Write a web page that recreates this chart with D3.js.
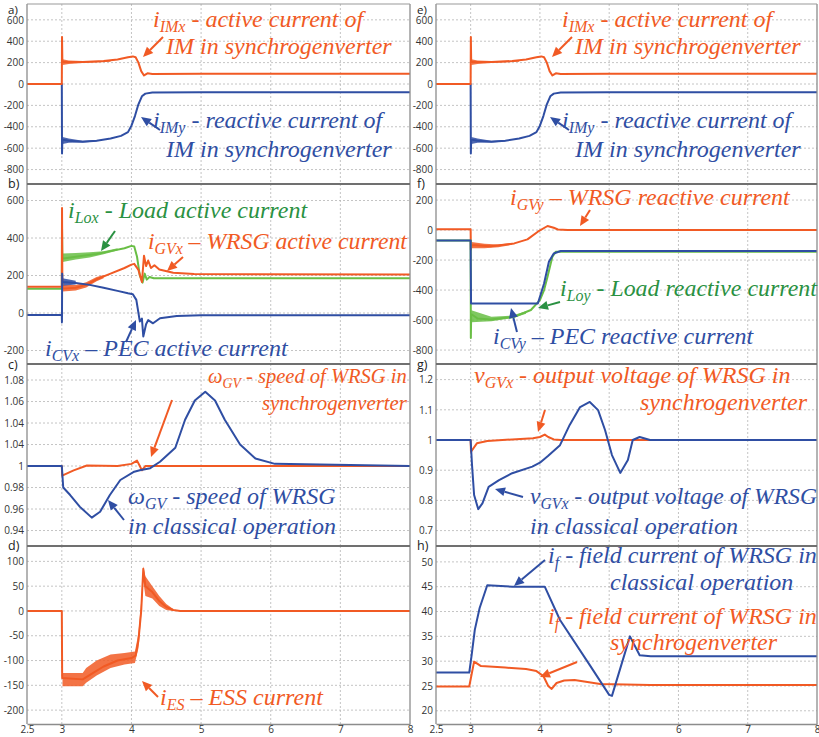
<!DOCTYPE html>
<html>
<head>
<meta charset="utf-8">
<script src="https://cdn.jsdelivr.net/npm/d3@7"></script>
<style>
  body { margin: 0; background: #fff; }
  svg { display: block; }
  .tick text, .plabel { font-family: "Open Sans", sans-serif; }
</style>
</head>
<body>
<svg width="819" height="737"></svg>
<script>
// colours
const ORANGE = "#f15a24";
const BLUE = "#2f4ea3";
const GREEN = "#69be45";
const GREEN_TXT = "#2a9142";

// x ticks (time, s)
const xTicks = [2.5, 3, 4, 5, 6, 7, 8];

// ---- panel a / e : IM currents ----
const imxLine = [[2.5,0],[3.0,0],[3.003,440],[3.008,205],[3.1,205],[3.3,205],[3.6,215],[3.8,230],[3.95,250],[4.02,258],[4.06,250],[4.1,200],[4.14,120],[4.18,80],[4.23,100],[4.3,93],[5,95],[8,95]];
const imxBand = [[3.01,178,232],[3.1,188,220],[3.3,196,214],[3.5,201,212],[3.7,209,217]];
const imyLine = [[2.5,0],[3.0,0],[3.003,-650],[3.008,-520],[3.1,-530],[3.3,-540],[3.5,-530],[3.7,-510],[3.85,-485],[3.95,-450],[4.0,-390],[4.05,-300],[4.1,-190],[4.15,-115],[4.2,-90],[4.3,-80],[5,-78],[8,-78]];
const imyBand = [[3.01,-560,-495],[3.1,-550,-510],[3.3,-548,-530],[3.5,-538,-523]];

// ---- panel b : active currents ----
const loxLine = [[2.5,130],[3.0,130],[3.003,450],[3.008,290],[3.1,295],[3.3,305],[3.5,315],[3.7,330],[3.9,345],[4.0,358],[4.04,355],[4.08,300],[4.12,200],[4.16,162],[4.19,210],[4.22,178],[4.26,192],[4.32,185],[8,185]];
const loxBand = [[3.01,272,318],[3.2,285,320],[3.4,296,324],[3.6,313,330],[3.8,333,345]];
const gvxLine = [[2.5,140],[3.0,140],[3.003,560],[3.008,130],[3.2,135],[3.35,150],[3.5,180],[3.7,210],[3.9,240],[4.0,258],[4.04,262],[4.1,230],[4.15,165],[4.18,305],[4.21,250],[4.24,280],[4.28,240],[4.33,255],[4.4,232],[4.6,215],[4.9,208],[8,205]];
const gvxBand = [[3.01,115,150],[3.2,120,150],[3.35,136,164],[3.5,170,192],[3.6,185,203]];
const cvxLine = [[2.5,-10],[3.0,-10],[3.002,-50],[3.005,210],[3.01,165],[3.2,160],[3.4,150],[3.6,135],[3.8,118],[3.95,105],[4.02,100],[4.07,70],[4.12,-45],[4.15,-30],[4.17,-125],[4.21,-60],[4.24,-38],[4.31,-55],[4.41,-28],[4.65,-16],[5,-12],[8,-12]];
const cvxBand = [[3.01,145,185],[3.2,152,172]];

// ---- panel c : speed ----
const wClassical = [[2.5,1],[3.0,1],[3.02,0.98],[3.12,0.973],[3.26,0.962],[3.43,0.952],[3.55,0.9575],[3.69,0.973],[3.84,0.987],[4.04,0.9947],[4.12,0.996],[4.27,0.998],[4.41,1.004],[4.63,1.017],[4.77,1.043],[4.91,1.061],[5.06,1.069],[5.2,1.061],[5.34,1.043],[5.56,1.02],[5.78,1.007],[6.06,1.002],[8,1]];
const wSynchro = [[2.5,1],[3.0,1],[3.005,0.991],[3.17,0.996],[3.36,1.0005],[3.8,1.0],[4.0,1.002],[4.08,1.005],[4.12,1.0],[4.15,0.996],[4.2,1.0],[8,1]];
const cTickVals = [1.08, 1.06, 1.04, 1.02, 1, 0.98, 0.96, 0.94];
const cTickLabels = ["1.08", "1.06", "1.04", "1.04", "1", "0.98", "0.96", "0.94"];

// ---- panel d : ESS current ----
const esLine = [[2.5,0],[3.0,0],[3.005,-135],[3.3,-138],[3.45,-125],[3.6,-112],[3.8,-100],[4.0,-95],[4.06,-90],[4.1,-60],[4.14,0],[4.17,85],[4.2,50],[4.3,38],[4.4,20],[4.5,8],[4.6,2],[4.7,0],[8,0]];
const esBand = [[3.01,-152,-125],[3.3,-152,-125],[3.35,-145,-115],[3.5,-130,-100],[3.7,-115,-88],[3.9,-108,-85],[4.05,-105,-82],[4.1,-75,-45],[4.14,-10,20],[4.17,60,90],[4.2,30,70],[4.3,25,50],[4.4,10,30],[4.5,2,14],[4.6,0,4]];

// ---- panel f : reactive currents ----
const gvyLine = [[2.5,5],[3.0,5],[3.003,-130],[3.01,-100],[3.29,-108],[3.63,-89],[3.82,-62],[3.97,-11],[4.11,27],[4.2,15],[4.26,4],[4.4,0],[8,0]];
const gvyBand = [[3.01,-122,-80],[3.2,-122,-92],[3.4,-114,-96],[3.6,-98,-86]];
const loyLine = [[2.5,-70],[3.0,-70],[3.003,-720],[3.008,-560],[3.1,-590],[3.29,-596],[3.63,-578],[3.87,-533],[4.0,-467],[4.06,-400],[4.11,-311],[4.18,-178],[4.23,-144],[8,-145]];
const loyBand = [[3.01,-615,-535],[3.3,-608,-578],[3.6,-588,-570],[3.8,-558,-542]];
const cvyLine = [[2.5,-70],[3.0,-70],[3.002,-250],[3.006,-490],[3.97,-490],[4.06,-356],[4.13,-211],[4.2,-156],[4.3,-140],[8,-140]];

// ---- panel g : output voltage ----
const vSynchro = [[2.5,1],[3.0,1],[3.005,0.961],[3.09,0.989],[3.24,0.997],[3.6,1.002],[3.9,1.006],[4.0,1.01],[4.07,1.018],[4.12,1.01],[4.2,1.002],[4.3,1.0],[8,1]];
const vClassical = [[2.5,1],[3.0,1],[3.02,0.917],[3.05,0.818],[3.11,0.771],[3.17,0.79],[3.26,0.845],[3.41,0.867],[3.6,0.89],[3.89,0.912],[4.0,0.925],[4.116,0.947],[4.29,0.983],[4.43,1.05],[4.58,1.109],[4.72,1.126],[4.84,1.099],[4.94,1.033],[5.04,0.95],[5.16,0.891],[5.27,0.934],[5.34,1.0],[5.44,1.01],[5.59,1.0],[8,1]];

// ---- panel h : field current ----
const ifClassical = [[2.5,27.7],[2.98,27.7],[3.015,31.25],[3.06,36.3],[3.13,40.7],[3.24,45.3],[3.6,45.0],[4.07,45.0],[4.29,38.3],[4.72,29.2],[5.0,23.2],[5.04,23.0],[5.3,35],[5.44,31.2],[5.6,31],[8,31]];
const ifSynchro = [[2.5,24.9],[2.98,24.9],[3.05,29.9],[3.15,29.0],[3.5,28.7],[3.8,28.4],[3.95,28.0],[4.05,27.0],[4.12,25.0],[4.17,24.4],[4.24,25.6],[4.35,26.1],[4.5,26.2],[4.87,25.4],[5.59,25.2],[8,25.2]];

const svg = d3.select("svg");

// pick a serif face that is really there
function hasFont(name) {
  const c = document.createElement("canvas").getContext("2d");
  const s = "IM in synchrogenverter wmlW";
  let diff = false;
  ["monospace", "sans-serif"].forEach(function(base) {
    c.font = "72px " + base;
    const w1 = c.measureText(s).width;
    c.font = `72px "${name}", ${base}`;
    const w2 = c.measureText(s).width;
    if (w1 !== w2) diff = true;
  });
  return diff;
}
const serifList = ["Liberation Serif", "Times New Roman", "Tinos", "DejaVu Serif", "Noto Serif", "FreeSerif", "Nimbus Roman"];
const serifFace = serifList.find(hasFont);
const noteFont = serifFace ? `"${serifFace}", serif` : "serif";
const noteSize = serifFace ? 24 : 22;
const subSize = serifFace ? 16 : 15;

// layout
const cols = [[27, 410], [436, 817]];
const rows = [[4, 184], [184, 364], [364, 546], [546, 724]];
const labelDy = [9.5, 4, 5, 4];

const ampTicks = [600, 400, 200, 0, -200, -400, -600, -800];

const panels = [
  { label: "a)", col: 0, row: 0, domain: [-935, 748], ticks: ampTicks,
    bands: [[imxBand, ORANGE], [imyBand, BLUE]],
    lines: [[imyLine, BLUE], [imxLine, ORANGE]] },
  { label: "b)", col: 0, row: 1, domain: [-272, 688], ticks: [600, 400, 200, 0, -200],
    bands: [[loxBand, GREEN], [gvxBand, ORANGE], [cvxBand, BLUE]],
    lines: [[loxLine, GREEN], [gvxLine, ORANGE], [cvxLine, BLUE]] },
  { label: "c)", col: 0, row: 2, domain: [0.9256, 1.0949], ticks: cTickVals, labels: cTickLabels,
    bands: [], lines: [[wSynchro, ORANGE], [wClassical, BLUE]] },
  { label: "d)", col: 0, row: 3, domain: [-228, 131], ticks: [100, 50, 0, -50, -100, -150, -200],
    bands: [[esBand, ORANGE]], lines: [[esLine, ORANGE]], xAxis: true },
  { label: "e)", col: 1, row: 0, domain: [-935, 748], ticks: ampTicks,
    bands: [[imxBand, ORANGE], [imyBand, BLUE]],
    lines: [[imyLine, BLUE], [imxLine, ORANGE]] },
  { label: "f)", col: 1, row: 1, domain: [-893, 307], ticks: [200, 0, -200, -400, -600, -800],
    bands: [[gvyBand, ORANGE], [loyBand, GREEN]],
    lines: [[gvyLine, ORANGE], [loyLine, GREEN], [cvyLine, BLUE]] },
  { label: "g)", col: 1, row: 2, domain: [0.649, 1.2517], ticks: [1.2, 1.1, 1, 0.9, 0.8, 0.7],
    bands: [], lines: [[vSynchro, ORANGE], [vClassical, BLUE]] },
  { label: "h)", col: 1, row: 3, domain: [17.34, 53.2], ticks: [50, 45, 40, 35, 30, 25, 20],
    bands: [], lines: [[ifSynchro, ORANGE], [ifClassical, BLUE]], xAxis: true }
];

panels.forEach(function(p) {
  const x = d3.scaleLinear().domain([2.5, 8]).range(cols[p.col]);
  const y = d3.scaleLinear().domain(p.domain).range([rows[p.row][1], rows[p.row][0]]);
  const g = svg.append("g");

  // grid
  g.selectAll(".hg").data(p.ticks).enter().append("line")
    .attr("x1", cols[p.col][0]).attr("x2", cols[p.col][1])
    .attr("y1", d => y(d)).attr("y2", d => y(d))
    .attr("stroke", "#b5b5b5").attr("stroke-width", 0.8).attr("stroke-dasharray", "2,2");
  g.selectAll(".vg").data([3, 4, 5, 6, 7]).enter().append("line")
    .attr("x1", d => x(d)).attr("x2", d => x(d))
    .attr("y1", rows[p.row][0]).attr("y2", rows[p.row][1])
    .attr("stroke", "#b5b5b5").attr("stroke-width", 0.8).attr("stroke-dasharray", "2,2");

  // y axis labels
  const fmt = p.labels ? (d, i) => p.labels[i] : d => String(d);
  const yAxis = g.append("g")
    .attr("transform", `translate(${cols[p.col][0]},0)`)
    .call(d3.axisLeft(y).tickValues(p.ticks).tickSize(0).tickPadding(3).tickFormat(fmt));
  yAxis.select(".domain").remove();
  yAxis.selectAll("text").attr("font-size", 10).attr("fill", "#333");

  // bands and lines
  const clipId = "clip" + p.label[0];
  svg.append("clipPath").attr("id", clipId).append("rect")
    .attr("x", cols[p.col][0]).attr("y", rows[p.row][0])
    .attr("width", cols[p.col][1] - cols[p.col][0]).attr("height", rows[p.row][1] - rows[p.row][0]);
  const plot = g.append("g").attr("clip-path", `url(#${clipId})`);

  const area = d3.area().x(d => x(d[0])).y0(d => y(d[1])).y1(d => y(d[2]));
  const line = d3.line().x(d => x(d[0])).y(d => y(d[1]));

  p.bands.forEach(function(b) {
    plot.append("path").attr("d", area(b[0])).attr("fill", b[1]).attr("opacity", 0.85);
  });
  p.lines.forEach(function(l) {
    plot.append("path").attr("d", line(l[0])).attr("fill", "none")
      .attr("stroke", l[1]).attr("stroke-width", 2).attr("stroke-linejoin", "round");
  });

  // frame
  g.append("line").attr("x1", cols[p.col][0]).attr("x2", cols[p.col][0])
    .attr("y1", rows[p.row][0]).attr("y2", rows[p.row][1]).attr("stroke", "#8c8c8c").attr("stroke-width", 1.3);
  g.append("line").attr("x1", cols[p.col][1]).attr("x2", cols[p.col][1])
    .attr("y1", rows[p.row][0]).attr("y2", rows[p.row][1]).attr("stroke", "#8c8c8c").attr("stroke-width", 1.3);
  g.append("line").attr("x1", cols[p.col][0]).attr("x2", cols[p.col][1])
    .attr("y1", rows[p.row][0]).attr("y2", rows[p.row][0])
    .attr("stroke", p.row === 0 ? "#9a9a9a" : "#707070").attr("stroke-width", p.row === 0 ? 1.2 : 2);

  // panel label
  g.append("text").attr("class", "plabel")
    .attr("x", cols[p.col][0] - 19).attr("y", rows[p.row][0] + labelDy[p.row])
    .attr("font-size", p.row === 0 ? 11.5 : 12.5).attr("fill", "#222")
    .text(p.label);

  // x axis
  if (p.xAxis) {
    const xAxis = g.append("g")
      .attr("transform", `translate(0,${rows[p.row][1]})`)
      .call(d3.axisBottom(x).tickValues(xTicks).tickSize(0).tickPadding(2).tickFormat(d => String(d)));
    xAxis.select(".domain").attr("stroke", "#8c8c8c").attr("stroke-width", 1.3);
    xAxis.selectAll("text").attr("font-size", 10).attr("fill", "#333");
  }
});

// annotations: x, baseline, colour, [main, subscript, rest]
const notes = [
  [153, 27, ORANGE, ["i", "IMx", " - active current of"]],
  [166, 54, ORANGE, ["IM in synchrogenverter"]],
  [153, 128, BLUE, ["i", "IMy", " - reactive current of"]],
  [166, 157, BLUE, ["IM in synchrogenverter"]],
  [562, 27, ORANGE, ["i", "IMx", " - active current of"]],
  [575, 54, ORANGE, ["IM in synchrogenverter"]],
  [562, 128, BLUE, ["i", "IMy", " - reactive current of"]],
  [575, 157, BLUE, ["IM in synchrogenverter"]],
  [68, 218, GREEN_TXT, ["i", "Lox", " - Load active current"]],
  [148, 249, ORANGE, ["i", "GVx", " – WRSG active current"]],
  [45, 356, BLUE, ["i", "CVx", " – PEC active current"]],
  [208, 383, ORANGE, ["ω", "GV", " - speed of WRSG in"]],
  [262, 410, ORANGE, ["synchrogenverter"]],
  [128, 504, BLUE, ["ω", "GV", " - speed of WRSG"]],
  [128, 534, BLUE, ["in classical operation"]],
  [160, 705, ORANGE, ["i", "ES", " – ESS current"]],
  [510, 205, ORANGE, ["i", "GVy", " – WRSG reactive current"]],
  [560, 296, GREEN_TXT, ["i", "Loy", " - Load reactive current"]],
  [493, 344, BLUE, ["i", "CVy", " – PEC reactive current"]],
  [474, 383, ORANGE, ["v", "GVx", " - output voltage of WRSG in"]],
  [640, 410, ORANGE, ["synchrogenverter"]],
  [530, 504, BLUE, ["v", "GVx", " - output voltage of WRSG"]],
  [530, 534, BLUE, ["in classical operation"]],
  [548, 563, BLUE, ["i", "f", " - field current of WRSG in"]],
  [610, 590, BLUE, ["classical operation"]],
  [548, 624, ORANGE, ["i", "f", " - field current of WRSG in"]],
  [610, 650, ORANGE, ["synchrogenverter"]]
];

notes.forEach(function(n) {
  const t = svg.append("text").attr("x", n[0]).attr("y", n[1])
    .style("font-family", noteFont).style("font-style", "italic")
    .attr("font-size", noteSize).attr("fill", n[2]);
  if (n[3].length === 1) {
    t.text(n[3][0]);
  } else {
    t.append("tspan").text(n[3][0]);
    t.append("tspan").attr("font-size", subSize).attr("dy", 5).text(n[3][1]);
    t.append("tspan").attr("dy", -5).text(n[3][2]);
  }
  // keep each line inside its column
  const limit = n[0] < 420 ? 407 : 817;
  const w = t.node().getComputedTextLength();
  if (n[0] + w > limit) {
    const k = (limit - n[0]) / w;
    t.attr("font-size", noteSize * k);
    t.selectAll("tspan").filter((d, i) => i === 1).attr("font-size", subSize * k);
  }
});

// arrows: from x, from y, tip x, tip y, colour
const arrows = [
  [163, 37, 143, 57, ORANGE], [160, 130, 141, 117, BLUE],
  [572, 37, 552, 57, ORANGE], [569, 130, 550, 117, BLUE],
  [115, 231, 101, 251, GREEN_TXT], [183, 257, 167, 271, ORANGE], [126, 342, 136, 320, BLUE],
  [172, 400, 151, 457, ORANGE], [124, 520, 108, 500, BLUE],
  [158, 697, 142, 681, ORANGE],
  [590, 210, 580, 226, ORANGE], [560, 302, 538, 308, GREEN_TXT], [517, 332, 511, 308, BLUE],
  [545, 410, 538, 432, ORANGE], [523, 497, 495, 489, BLUE],
  [545, 560, 514, 586, BLUE], [577, 662, 540, 677, ORANGE]
];

arrows.forEach(function(a) {
  const dx = a[2] - a[0], dy = a[3] - a[1];
  const len = Math.sqrt(dx * dx + dy * dy);
  const ux = dx / len, uy = dy / len;
  const hl = 10, hw = 4.5;
  const bx = a[2] - ux * hl, by = a[3] - uy * hl;
  svg.append("line").attr("x1", a[0]).attr("y1", a[1]).attr("x2", bx).attr("y2", by)
    .attr("stroke", a[4]).attr("stroke-width", 2);
  svg.append("path")
    .attr("d", `M${a[2]},${a[3]}L${bx - uy * hw},${by + ux * hw}L${bx + uy * hw},${by - ux * hw}Z`)
    .attr("fill", a[4]);
});
</script>
</body>
</html>
